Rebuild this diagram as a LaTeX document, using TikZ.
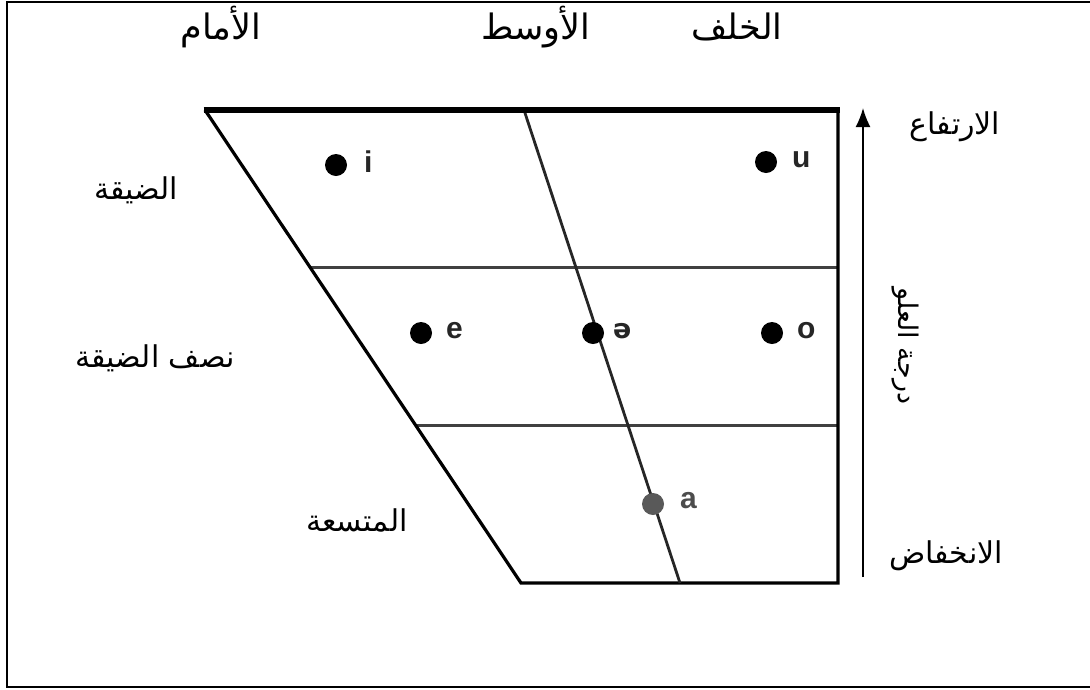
\documentclass[tikz,border=0pt]{standalone}
\usepackage{fontspec}
\setmainfont{Liberation Sans}
\newfontfamily\arabicfont[Script=Arabic]{DejaVu Sans}
\newfontfamily\latinfont{Liberation Sans}
\TeXXeTstate=1
\usetikzlibrary{arrows.meta}
\begin{document}
\begin{tikzpicture}[x=1pt,y=-1pt,
  arlabel/.style={font=\arabicfont\fontsize{30}{34}\selectfont, inner sep=0pt, anchor=center},
  artop/.style={arlabel, font=\arabicfont\fontsize{35}{40}\selectfont},
  vdot/.style={circle, fill=black, minimum size=22pt, inner sep=0pt},
  vlabel/.style={font=\latinfont\bfseries\fontsize{30}{33}\selectfont, text=black!85, inner sep=0pt, anchor=west},
  chartline/.style={line width=3.2pt, black},
  gridline/.style={line width=3pt, black!75},
  frameline/.style={line width=2.2pt, black}]
\useasboundingbox (0,0) rectangle (1090,689);
% frame
\coordinate (F1) at (7,687);
\coordinate (F2) at (7,2);
\coordinate (F3) at (1090,2);
\coordinate (F4) at (1090,687);
\draw[frameline] (F3) -- (F2) -- (F1) -- (F4);
% chart corners
\coordinate (TL) at (205,110);
\coordinate (TR) at (838,110);
\coordinate (BR) at (838,583);
\coordinate (BL) at (521,583);
\coordinate (MT) at (524,110);
\coordinate (MB) at (680,583);
\coordinate (H1L) at (310,267);
\coordinate (H1R) at (838,267);
\coordinate (H2L) at (415,425);
\coordinate (H2R) at (838,425);
\draw[gridline] (H1L) -- (H1R);
\draw[gridline] (H2L) -- (H2R);
\draw[chartline] (TL) -- (BL) -- (BR) -- (TR);
\draw[line width=2.8pt, black!85] (MT) -- (MB);
\draw[line width=6.5pt, black] ([xshift=-1.5pt]TL) -- ([xshift=1.6pt]TR);
% arrow
\coordinate (A1) at (863,577);
\coordinate (A2) at (863,108);
\draw[line width=1.6pt, -{Latex[length=19pt,width=15pt]}] (A1) -- (A2);
% vowels
\node[vdot] (di) at (336,165) {};
\node[vlabel] (li) at (364,162) {i};
\node[vdot] (du) at (766,162) {};
\node[vlabel] (lu) at (792,160) {u};
\node[vdot] (de) at (421,333) {};
\node[vlabel] (le) at (446,331) {e};
\node[vdot] (ds) at (593,333) {};
\node[vlabel] (ls) at (613,331) {\fontspec{DejaVu Sans}\bfseries\fontsize{27}{30}\selectfont ə};
\node[vdot] (do) at (772,333) {};
\node[vlabel] (lo) at (797,331) {o};
\node[vdot, fill=black!65] (da) at (653,504) {};
\node[vlabel, text=black!70] (la) at (680,501) {a};
% Arabic labels
\node[artop] (front) at (221,27) {\beginR الأمام\endR};
\node[artop] (central) at (536,27) {\beginR الأوسط\endR};
\node[artop] (back) at (737,27) {\beginR الخلف\endR};
\node[arlabel] (high) at (955,127) {\beginR الارتفاع\endR};
\node[arlabel] (close) at (136,190) {\beginR الضيقة\endR};
\node[arlabel] (halfclose) at (155,358) {\beginR نصف الضيقة\endR};
\node[arlabel] (open) at (357,520) {\beginR المتسعة\endR};
\node[arlabel] (low) at (946,556) {\beginR الانخفاض\endR};
\node[arlabel, rotate=-90, font=\arabicfont\fontsize{27}{30}\selectfont] (height) at (905,346) {\beginR درجة العلو\endR};
\end{tikzpicture}
\end{document}
